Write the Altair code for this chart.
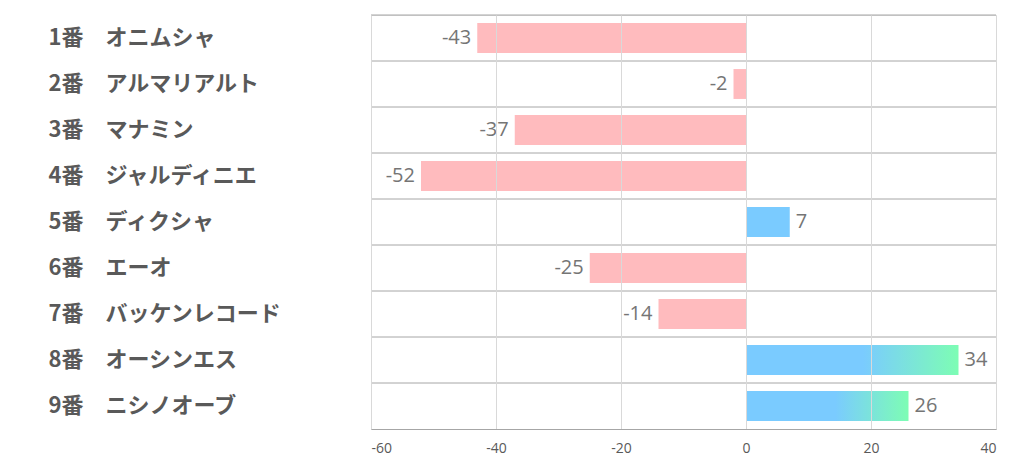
import altair as alt
import pandas as pd

names = ["1番　オニムシャ", "2番　アルマリアルト", "3番　マナミン", "4番　ジャルディニエ",
         "5番　ディクシャ", "6番　エーオ", "7番　バッケンレコード", "8番　オーシンエス", "9番　ニシノオーブ"]
values = [-43, -2, -37, -52, 7, -25, -14, 34, 26]
x_ticks = [-60, -40, -20, 0, 20, 40]

df = pd.DataFrame({"name": names, "value": values})
df["label"] = [str(v) for v in values]

PINK = "#FFBBBE"
BLUE = "#7ACBFF"
GREEN = "#7DFDB4"

yenc = alt.Y("name:N", sort=names, scale=alt.Scale(paddingInner=0, paddingOuter=0),
             axis=alt.Axis(title=None, labelAlign="left", labelPadding=323, ticks=False,
                           domain=False, grid=False, labelFontSize=22, labelFontWeight="bold",
                           labelColor="#595959", labelFont="Noto Sans CJK JP", labelLimit=0))
xscale = alt.Scale(domain=[-60, 40], nice=False, zero=False)
xenc = alt.X("value:Q", scale=xscale,
             axis=alt.Axis(title=None, values=x_ticks, grid=True, gridColor="#d9d9d9",
                           domainColor="#a6a6a6", ticks=False, labelPadding=12,
                           labelFontSize=14, labelColor="#595959", labelFont="Open Sans",
                           labelExpr="datum.value + ''", zindex=1))

base = alt.Chart(df)

rows = base.mark_rule(color="#a6a6a6", strokeWidth=1).encode(
    y=alt.Y("name:N", sort=names, bandPosition=0)
)

neg = base.transform_filter("datum.value < 0").mark_bar(
    color=PINK, height=alt.RelativeBandSize(band=0.65)
).encode(x=xenc, x2=alt.datum(0), y=yenc)

pos_plain = base.transform_filter("datum.value > 0 && datum.value < 20").mark_bar(
    color=BLUE, height=alt.RelativeBandSize(band=0.65)
).encode(x=alt.X("value:Q", scale=xscale), x2=alt.datum(0), y=alt.Y("name:N", sort=names))

grad = alt.LinearGradient(
    gradient="linear", x1=0, x2=1, y1=0, y2=0,
    stops=[alt.GradientStop(color=BLUE, offset=0), alt.GradientStop(color=BLUE, offset=0.55),
           alt.GradientStop(color=GREEN, offset=1)],
)
pos_grad = base.transform_filter("datum.value >= 20").mark_bar(
    color=grad, height=alt.RelativeBandSize(band=0.65)
).encode(x=alt.X("value:Q", scale=xscale), x2=alt.datum(0), y=alt.Y("name:N", sort=names))

txt_neg = base.transform_filter("datum.value < 0").mark_text(
    align="right", baseline="middle", dx=-6, fontSize=20, color="#757575", font="Open Sans"
).encode(x=alt.X("value:Q", scale=xscale), y=alt.Y("name:N", sort=names), text="label:N")

txt_pos = base.transform_filter("datum.value > 0").mark_text(
    align="left", baseline="middle", dx=6, fontSize=20, color="#757575", font="Open Sans"
).encode(x=alt.X("value:Q", scale=xscale), y=alt.Y("name:N", sort=names), text="label:N")

chart = alt.layer(rows, neg, pos_plain, pos_grad, txt_neg, txt_pos).properties(
    width=625, height=414,
    autosize=alt.AutoSizeParams(type="none"),
    padding={"left": 363, "top": 7, "right": 10, "bottom": 35},
).configure_view(stroke=None).configure(background="white")

chart.save("out.html", embed_options={"renderer": "svg", "actions": False})
